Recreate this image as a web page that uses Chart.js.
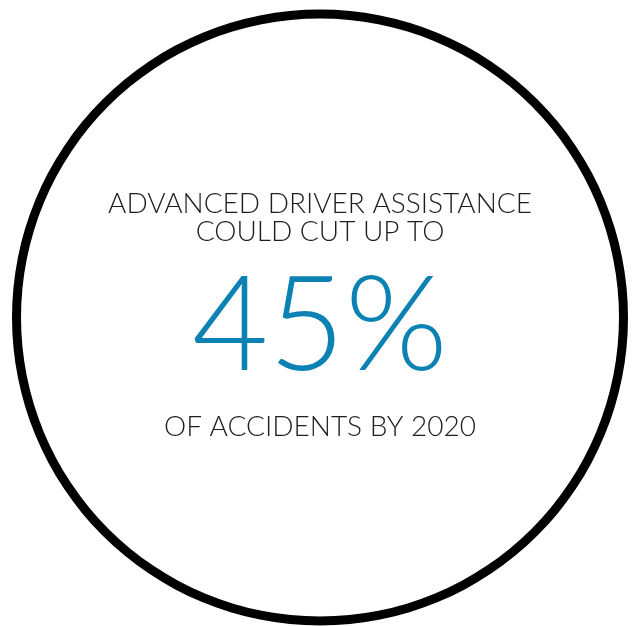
<!DOCTYPE html>
<html lang="en">
  <head>
    <meta charset="utf-8" />
    <title>Advanced driver assistance</title>
    <style>
      html, body { margin: 0; padding: 0; background: #ffffff; }
      #wrap { width: 632px; height: 626px; position: relative; }
    </style>
  </head>
  <body>
    <div id="wrap">
      <canvas id="statChart" width="632" height="626"></canvas>
    </div>

    <script src="https://cdn.jsdelivr.net/npm/chart.js"></script>
    <script>
      // ring is one full slice, the figure is drawn in the middle
      const ringLabels = ['Ring'];
      const ringValues = [100];
      const headLines = ['ADVANCED DRIVER ASSISTANCE', 'COULD CUT UP TO'];
      const bigValue = [45];
      const footLines = ['OF ACCIDENTS BY 2020'];

      const centerText = {
        id: 'centerText',
        afterDraw(chart) {
          const ctx = chart.ctx;
          const arc = chart.getDatasetMeta(0).data[0];
          const cx = arc.x;
          ctx.save();
          ctx.textAlign = 'center';
          ctx.textBaseline = 'alphabetic';

          ctx.fillStyle = '#1e1e1e';
          ctx.font = '300 28px Lato';
          ctx.fillText(headLines[0], cx, 213);
          ctx.fillText(headLines[1], cx, 241);

          ctx.fillStyle = '#0b82b3';
          ctx.font = '300 132px Lato';
          ctx.fillText(bigValue[0] + '%', cx, 370);

          ctx.fillStyle = '#1e1e1e';
          ctx.font = '300 28px Lato';
          ctx.fillText(footLines[0], cx, 436);
          ctx.restore();
        }
      };

      const ctx = document.getElementById('statChart').getContext('2d');
      new Chart(ctx, {
        type: 'doughnut',
        data: {
          labels: ringLabels,
          datasets: [{
            data: ringValues,
            backgroundColor: ['#000000'],
            borderWidth: 0
          }]
        },
        options: {
          responsive: false,
          animation: false,
          cutout: 299,
          layout: { padding: { left: 12, right: 4, top: 9, bottom: 0 } },
          plugins: {
            legend: { display: false },
            tooltip: { enabled: false }
          }
        },
        plugins: [centerText]
      });
    </script>
  </body>
</html>
